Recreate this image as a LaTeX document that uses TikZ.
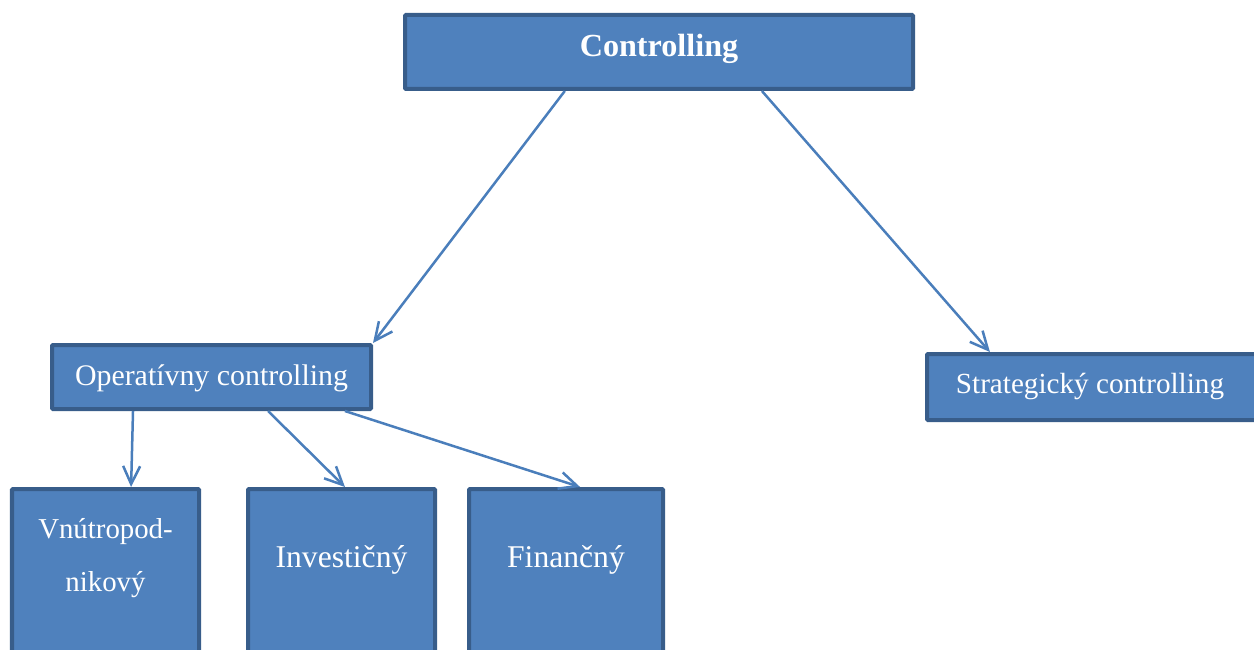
\documentclass[tikz,border=0pt]{standalone}
\usepackage{fontspec}
\setmainfont{Liberation Serif}
\usetikzlibrary{arrows.meta,calc,positioning}

\definecolor{boxfill}{HTML}{4F81BD}
\definecolor{boxline}{HTML}{385D8A}
\definecolor{arrline}{HTML}{4A7EBB}

\tikzset{
cbox/.style={draw=boxline,fill=boxfill,line width=0.08cm,rounded corners=0.6pt,text=white,inner sep=0pt,font=\fontsize{17}{20}\selectfont},
leafbox/.style={cbox,anchor=north,minimum width=3.74cm,text height=1.56cm,text depth=3cm,align=center,font=\fontsize{18}{21}\selectfont},
arr/.style={draw=arrline,line width=0.05cm,-{Straight Barb[length=0.36cm,width=0.34cm,line width=0.05cm]}}
}

\begin{document}
\begin{tikzpicture}
\useasboundingbox (0,0) rectangle (25.08,12.98);
\clip (0,0) rectangle (25.08,12.98);

\coordinate (c0) at (13.18,11.94);
\coordinate (c1) at (4.23,5.44);
\coordinate (c2) at (21.9,5.24);
\coordinate (c3) at (2.11,3.24);
\coordinate (c4) at (6.83,3.24);
\coordinate (c5) at (11.32,3.24);

\node (ctrl) at (c0) [cbox,minimum width=10.16cm,minimum height=1.48cm,text height=0.4cm,text depth=0.2cm,font=\bfseries\fontsize{18.3}{21}\selectfont] {Controlling};
\node (oper) at (c1) [cbox,minimum width=6.38cm,minimum height=1.28cm,text height=0.42cm,text depth=0.1cm] {Operatívny controlling};
\node (strat) at (c2) [cbox,minimum width=6.72cm,minimum height=1.32cm,text height=0.36cm,text depth=0.12cm,font=\fontsize{16.6}{20}\selectfont] {\kern-0.2cm Strategický controlling};
\node (vnu) at (c3) [leafbox,text height=2.04cm,font=\fontsize{16.4}{29.6}\selectfont] {Vnútropod-\\nikový};
\node (inv) at (c4) [leafbox] {Investičný};
\node (fin) at (c5) [leafbox,minimum width=3.88cm] {Finančný};

\foreach \s/\p/\t/\q in {ctrl/.316/oper/1,ctrl/.701/strat/.191,oper/.257/vnu/.634,oper/.675/inv/.518,oper/.913/fin/.571} {
\draw[arr] ($(\s.south west)!\p!(\s.south east)$) -- ($(\t.north west)!\q!(\t.north east)$);
};
\end{tikzpicture}
\end{document}
